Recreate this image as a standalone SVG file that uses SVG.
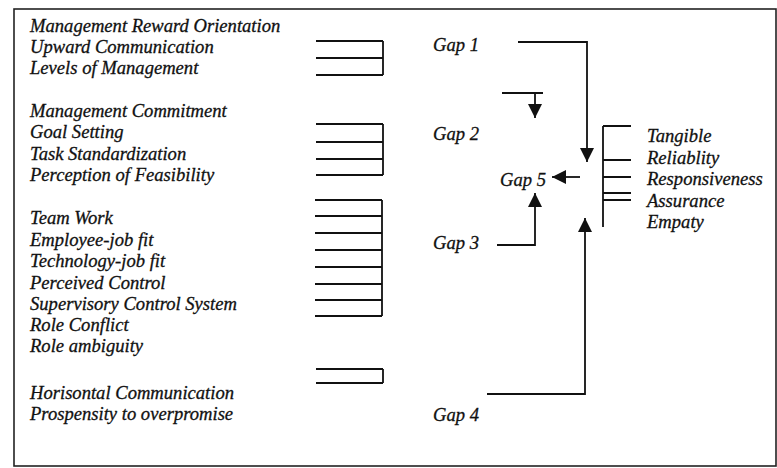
<svg xmlns="http://www.w3.org/2000/svg" width="777" height="468" viewBox="0 0 777 468">
<defs>
<style>
text{font-family:"Liberation Serif","Times New Roman",serif;font-style:italic;font-size:18.6px;fill:#111;stroke:#111;stroke-width:0.3}
.ln{stroke:#111;stroke-width:1.8;fill:none}
.frame{stroke:#222;stroke-width:1.6;fill:none}
</style>
<marker id="ah" viewBox="0 0 10 10" refX="10" refY="5" markerWidth="14" markerHeight="14" markerUnits="userSpaceOnUse" orient="auto">
<path d="M0,0 L10,5 L0,10 Z" fill="#111"/>
</marker>
</defs>
<rect class="frame" x="14" y="9" width="762" height="457"/>
<g id="factors-gap1">
<text x="30" y="32">Management Reward Orientation</text>
<text x="30" y="53">Upward Communication</text>
<text x="30" y="74">Levels of Management</text>
<path class="ln" d="M316,41 H383 M316,58 H383 M316,75 H383 M383,41 V75"/>
</g>
<g id="factors-gap2">
<text x="30" y="117">Management Commitment</text>
<text x="30" y="138">Goal Setting</text>
<text x="30" y="160">Task Standardization</text>
<text x="30" y="181">Perception of Feasibility</text>
<path class="ln" d="M316,124 H383 M316,142 H383 M316,159 H383 M316,175 H383 M383,124 V175"/>
</g>
<g id="factors-gap3">
<text x="30" y="224">Team Work</text>
<text x="30" y="246">Employee-job fit</text>
<text x="30" y="267">Technology-job fit</text>
<text x="30" y="289">Perceived Control</text>
<text x="30" y="310">Supervisory Control System</text>
<text x="30" y="331">Role Conflict</text>
<text x="30" y="352">Role ambiguity</text>
<path class="ln" d="M315,200 H382 M315,216 H382 M315,233 H382 M315,250 H382 M315,267 H382 M315,284 H382 M315,300 H382 M315,316 H382 M382,200 V316"/>
</g>
<g id="factors-gap4">
<text x="30" y="399">Horisontal Communication</text>
<text x="30" y="420">Prospensity to overpromise</text>
<path class="ln" d="M316,369 H383 M316,383 H383 M383,369 V383"/>
</g>
<g id="gap1"><text x="433" y="51">Gap 1</text></g>
<g id="gap2"><text x="433" y="140">Gap 2</text></g>
<g id="gap3"><text x="433" y="249">Gap 3</text></g>
<g id="gap4"><text x="433" y="421">Gap 4</text></g>
<g id="gap5"><text x="500" y="186">Gap 5</text></g>
<g id="dimensions">
<text x="647" y="142">Tangible</text>
<text x="647" y="164">Reliablity</text>
<text x="647" y="185">Responsiveness</text>
<text x="647" y="207">Assurance</text>
<text x="647" y="228">Empaty</text>
<path class="ln" d="M603,126 V227 M603,126 H631 M603,160 H631 M603,177 H631 M603,193 H631 M603,200 H631"/>
</g>
<g id="connectors">
<path class="ln" d="M518,42 H587 V162" marker-end="url(#ah)"/>
<path class="ln" d="M502,93 H543 M535,93 V118" marker-end="url(#ah)"/>
<path class="ln" d="M580,177 H552" marker-end="url(#ah)"/>
<path class="ln" d="M497,245 H535 V193" marker-end="url(#ah)"/>
<path class="ln" d="M487,394 H585 V218" marker-end="url(#ah)"/>
</g>
</svg>
